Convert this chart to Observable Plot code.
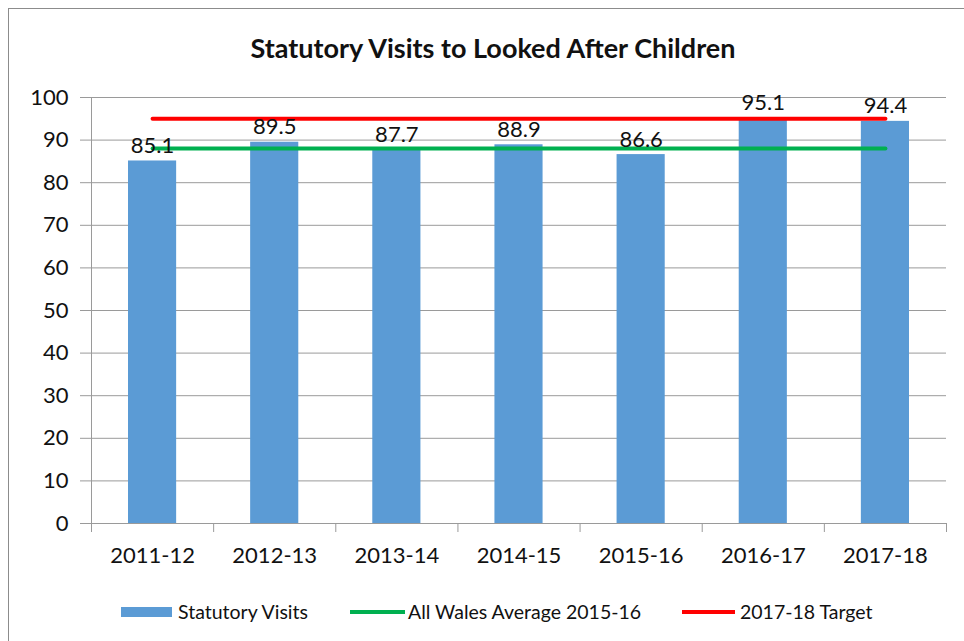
<!DOCTYPE html>
<html><head><meta charset="utf-8">
<script src="https://cdn.jsdelivr.net/npm/d3@7"></script>
<script src="https://cdn.jsdelivr.net/npm/@observablehq/plot@0.6"></script>
<style>
body{margin:0;background:#fff;font-family:Lato,"Open Sans",sans-serif;color:#111;}
#wrap{position:relative;width:964px;height:641px;overflow:hidden;background:#fff;}
#border{position:absolute;left:8px;top:8px;width:990px;height:680px;border:1px solid #8c8c8c;pointer-events:none;}
#title{position:absolute;left:22px;width:942px;top:30px;line-height:36px;text-align:center;font-weight:bold;font-size:27px;color:#111;}
#chart{position:absolute;left:0;top:70px;}
.lg{position:absolute;}
.lt{position:absolute;top:599px;line-height:26px;font-size:19.5px;color:#111;white-space:nowrap;}
</style></head>
<body>
<div id="wrap">
  <div id="border"></div>
  <div id="title">Statutory Visits to Looked After Children</div>
  <div id="chart"></div>
  <div class="lg" style="left:121px;top:607px;width:51px;height:10px;background:#5B9BD5"></div>
  <div class="lt" style="left:178px">Statutory Visits</div>
  <div class="lg" style="left:350px;top:610px;width:55px;height:4px;background:#00B050"></div>
  <div class="lt" style="left:408px">All Wales Average 2015-16</div>
  <div class="lg" style="left:682px;top:610px;width:53px;height:4px;background:#FF0000"></div>
  <div class="lt" style="left:740px">2017-18 Target</div>
</div>
<script>
const categories = ["2011-12","2012-13","2013-14","2014-15","2015-16","2016-17","2017-18"];
const visits = [85.1, 89.5, 87.7, 88.9, 86.6, 95.1, 94.4];
const walesAverage = 88.0;
const target = 95.0;
const yTicks = [0,10,20,30,40,50,60,70,80,90,100];

const rows = categories.map((c, i) => ({i, c, v: visits[i], avg: walesAverage, target}));
const gray = "#9a9a9a";

const plot = Plot.plot({
  width: 964, height: 510,
  marginLeft: 91, marginRight: 18, marginTop: 27, marginBottom: 57,
  style: {fontFamily: "Lato, 'Open Sans', sans-serif", fontSize: "22px", color: "#111", background: "transparent", overflow: "visible"},
  x: {type: "linear", domain: [0, categories.length]},
  y: {domain: [0, 100]},
  marks: [
    Plot.gridY(yTicks, {stroke: gray, strokeOpacity: 1}),
    Plot.rectY(rows, {x1: "i", x2: d => d.i + 1, y: "v", fill: "#5B9BD5", insetLeft: 37, insetRight: 37}),
    Plot.line(rows, {x: d => d.i + 0.5, y: "avg", stroke: "#00B050", strokeWidth: 4}),
    Plot.line(rows, {x: d => d.i + 0.5, y: "target", stroke: "#FF0000", strokeWidth: 4}),
    Plot.axisY(yTicks, {tickSize: 11, tickPadding: 12, stroke: gray, fill: "#111", fontSize: 22, label: null}),
    Plot.axisX(d3.range(categories.length + 1), {tickSize: 9, tickFormat: () => "", stroke: gray, label: null}),
    Plot.axisX(d3.range(categories.length).map(i => i + 0.5), {tickSize: 0, tickPadding: 24, tickFormat: v => categories[Math.floor(v)], fill: "#111", fontSize: 22, label: null}),
    Plot.ruleX([0], {stroke: gray}),
    Plot.text(rows, {x: d => d.i + 0.5, y: "v", text: d => d.v.toFixed(1), lineAnchor: "bottom", dy: -8, fontSize: 22, fill: "#111"})
  ]
});
document.getElementById("chart").appendChild(plot);
</script>
</body></html>
